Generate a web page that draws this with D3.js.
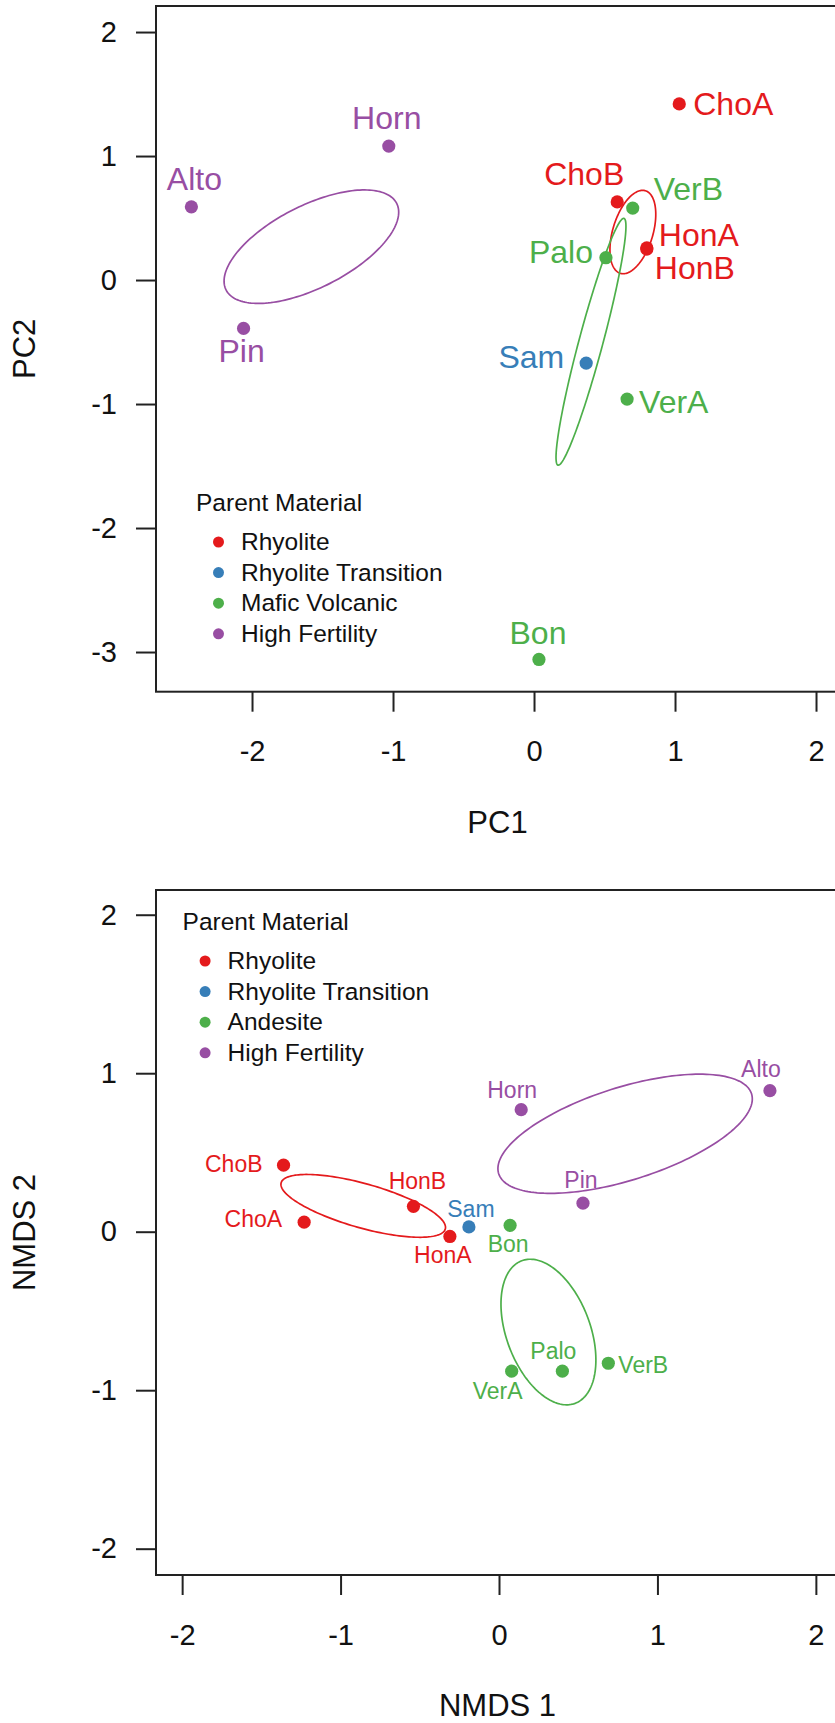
<!DOCTYPE html>
<html>
<head>
<meta charset="utf-8">
<script src="https://cdn.jsdelivr.net/npm/d3@7"></script>
<style>
  html, body { margin: 0; padding: 0; background: #fff; }
  svg { display: block; }
  text { font-family: "Liberation Sans", Arial, Helvetica, sans-serif; }
</style>
</head>
<body>
<script>
// ---------------- DATA ----------------
const sites = ["ChoA","ChoB","HonA","HonB","Sam","Palo","VerA","VerB","Bon","Alto","Horn","Pin"];
const groupIndex = [0,0,0,0,1,2,2,2,2,3,3,3];

const pcaGroups = ["Rhyolite","Rhyolite Transition","Mafic Volcanic","High Fertility"];
const nmdsGroups = ["Rhyolite","Rhyolite Transition","Andesite","High Fertility"];

const pc1 = [1.03, 0.59, 0.80, 0.80, 0.37, 0.51, 0.66, 0.70, 0.035, -2.43, -1.03, -2.06];
const pc2 = [1.42, 0.63, 0.26, 0.25, -0.67, 0.18, -0.96, 0.58, -3.06, 0.59, 1.08, -0.39];

const nmds1 = [-1.23, -1.36, -0.31, -0.54, -0.19, 0.40, 0.08, 0.69, 0.07, 1.71, 0.14, 0.53];
const nmds2 = [0.06, 0.42, -0.03, 0.16, 0.03, -0.88, -0.88, -0.83, 0.04, 0.89, 0.77, 0.18];

const xTicks = [-2, -1, 0, 1, 2];
const pcaYTicks = [2, 1, 0, -1, -2, -3];
const nmdsYTicks = [2, 1, 0, -1, -2];

// ellipses: group, centre, semi-axis vectors (data units)
const pcaEllipseGroup = [3, 0, 2];
const pcaEllipseCentre = [[-1.579, 0.269], [0.701, 0.387], [0.404, -0.498]];
const pcaEllipseAxisU = [[0.605, 0.349], [0.089, 0.333], [-0.234, -0.995]];
const pcaEllipseAxisV = [[0.132, -0.296], [0.136, -0.047], [0.082, -0.025]];

const nmdsEllipseGroup = [0, 3, 2];
const nmdsEllipseCentre = [[-0.857, 0.163], [0.796, 0.618], [0.312, -0.633]];
const nmdsEllipseAxisU = [[0.518, -0.146], [0.798, 0.252], [0.168, -0.450]];
const nmdsEllipseAxisV = [[-0.038, -0.134], [0.088, -0.279], [0.248, 0.092]];

// ---------------- LAYOUT / STYLE ----------------
const colors = ["#E41A1C", "#377EB8", "#4DAF4A", "#984EA3"];
const FONT = "'Liberation Sans', Arial, Helvetica, sans-serif";

// label placement [dx, dy, anchor] in site order
const pcaLabelPos = [
  [14, 11, "start"], [-33, -17, "middle"], [12, -2, "start"], [8, 30, "start"],
  [-22, 5, "end"], [-13, 5, "end"], [12, 14, "start"], [21, -8, "start"],
  [-1, -15, "middle"], [3, -17, "middle"], [-2, -17, "middle"], [-2, 34, "middle"]
];
const nmdsLabelPos = [
  [-22, 5, "end"], [-21, 7, "end"], [-7, 27, "middle"], [4, -17, "middle"],
  [2, -10, "middle"], [-9, -12, "middle"], [-14, 28, "middle"], [10, 10, "start"],
  [-2, 27, "middle"], [-9, -14, "middle"], [-9, -12, "middle"], [-2, -15, "middle"]
];

const W = 835, H = 1723;
const svg = d3.select("body").append("svg")
  .attr("width", W).attr("height", H)
  .attr("viewBox", `0 0 ${W} ${H}`);
svg.append("rect").attr("width", W).attr("height", H).attr("fill", "#fff");

function panel(cfg) {
  const g = svg.append("g");
  const x = d3.scaleLinear().domain(cfg.xDomain).range([cfg.left, cfg.right]);
  const y = d3.scaleLinear().domain(cfg.yDomain).range([cfg.bottom, cfg.top]);

  // box (right side falls outside the page)
  g.append("rect")
    .attr("x", cfg.left).attr("y", cfg.top)
    .attr("width", cfg.right - cfg.left).attr("height", cfg.bottom - cfg.top)
    .attr("fill", "none").attr("stroke", "#222").attr("stroke-width", 2);

  // x axis
  const xAxis = d3.axisBottom(x).tickValues(xTicks).tickSize(20).tickPadding(29)
    .tickFormat(d3.format("d"));
  const gx = g.append("g").attr("transform", `translate(0,${cfg.bottom})`).call(xAxis);
  gx.select(".domain").remove();
  gx.selectAll(".tick line").attr("stroke", "#222").attr("stroke-width", 2);
  gx.selectAll(".tick text").attr("font-family", FONT).attr("font-size", 29)
    .attr("fill", "#111").text(d => d < 0 ? "-" + Math.abs(d) : d);

  // y axis
  const yAxis = d3.axisLeft(y).tickValues(cfg.yTicks).tickSize(20).tickPadding(19)
    .tickFormat(d3.format("d"));
  const gy = g.append("g").attr("transform", `translate(${cfg.left},0)`).call(yAxis);
  gy.select(".domain").remove();
  gy.selectAll(".tick line").attr("stroke", "#222").attr("stroke-width", 2);
  gy.selectAll(".tick text").attr("font-family", FONT).attr("font-size", 29)
    .attr("fill", "#111").text(d => d < 0 ? "-" + Math.abs(d) : d);

  // axis titles
  g.append("text").attr("x", (cfg.left + cfg.right) / 2).attr("y", cfg.bottom + 141)
    .attr("text-anchor", "middle").attr("font-size", 31).attr("fill", "#111")
    .text(cfg.xTitle);
  g.append("text")
    .attr("transform", `translate(35,${(cfg.top + cfg.bottom) / 2}) rotate(-90)`)
    .attr("text-anchor", "middle").attr("font-size", 31).attr("fill", "#111")
    .text(cfg.yTitle);

  // ellipses
  const line = d3.line().x(p => x(p[0])).y(p => y(p[1])).curve(d3.curveLinearClosed);
  const tSteps = d3.range(0, 180).map(i => i / 180 * 2 * Math.PI);
  cfg.ellGroup.forEach((gi, k) => {
    const c = cfg.ellCentre[k], u = cfg.ellU[k], v = cfg.ellV[k];
    const pts = tSteps.map(t => [
      c[0] + u[0] * Math.cos(t) + v[0] * Math.sin(t),
      c[1] + u[1] * Math.cos(t) + v[1] * Math.sin(t)
    ]);
    g.append("path").attr("d", line(pts)).attr("fill", "none")
      .attr("stroke", colors[gi]).attr("stroke-width", 1.7);
  });

  // points
  g.selectAll("circle.pt").data(sites).join("circle")
    .attr("class", "pt")
    .attr("cx", (d, i) => x(cfg.xs[i])).attr("cy", (d, i) => y(cfg.ys[i]))
    .attr("r", 6.6).attr("fill", (d, i) => colors[groupIndex[i]]);

  // labels
  g.selectAll("text.lab").data(sites).join("text")
    .attr("class", "lab")
    .attr("x", (d, i) => x(cfg.xs[i]) + cfg.labPos[i][0])
    .attr("y", (d, i) => y(cfg.ys[i]) + cfg.labPos[i][1])
    .attr("text-anchor", (d, i) => cfg.labPos[i][2])
    .attr("font-size", cfg.labSize)
    .attr("fill", (d, i) => colors[groupIndex[i]])
    .text(d => d);

  // legend
  const lg = g.append("g");
  lg.append("text").attr("x", cfg.legX).attr("y", cfg.legY)
    .attr("font-size", 24.5).attr("fill", "#111").text("Parent Material");
  cfg.groups.forEach((name, i) => {
    const cy = cfg.legY + 31 + i * 30.6;
    lg.append("circle").attr("cx", cfg.legX + 22.5).attr("cy", cy).attr("r", 5.5)
      .attr("fill", colors[i]);
    lg.append("text").attr("x", cfg.legX + 45).attr("y", cy + 8)
      .attr("font-size", 24.5).attr("fill", "#111").text(name);
  });
}

panel({
  left: 156, right: 839, top: 6, bottom: 691.7,
  xDomain: [-2.681, 2.163], yDomain: [-3.32, 2.21],
  yTicks: pcaYTicks, xTitle: "PC1", yTitle: "PC2",
  xs: pc1, ys: pc2, labPos: pcaLabelPos, labSize: 32,
  ellGroup: pcaEllipseGroup, ellCentre: pcaEllipseCentre,
  ellU: pcaEllipseAxisU, ellV: pcaEllipseAxisV,
  groups: pcaGroups, legX: 196, legY: 511
});

panel({
  left: 156, right: 839, top: 890, bottom: 1575,
  xDomain: [-2.165, 2.146], yDomain: [-2.166, 2.156],
  yTicks: nmdsYTicks, xTitle: "NMDS 1", yTitle: "NMDS 2",
  xs: nmds1, ys: nmds2, labPos: nmdsLabelPos, labSize: 23,
  ellGroup: nmdsEllipseGroup, ellCentre: nmdsEllipseCentre,
  ellU: nmdsEllipseAxisU, ellV: nmdsEllipseAxisV,
  groups: nmdsGroups, legX: 182.6, legY: 930
});
</script>
</body>
</html>
